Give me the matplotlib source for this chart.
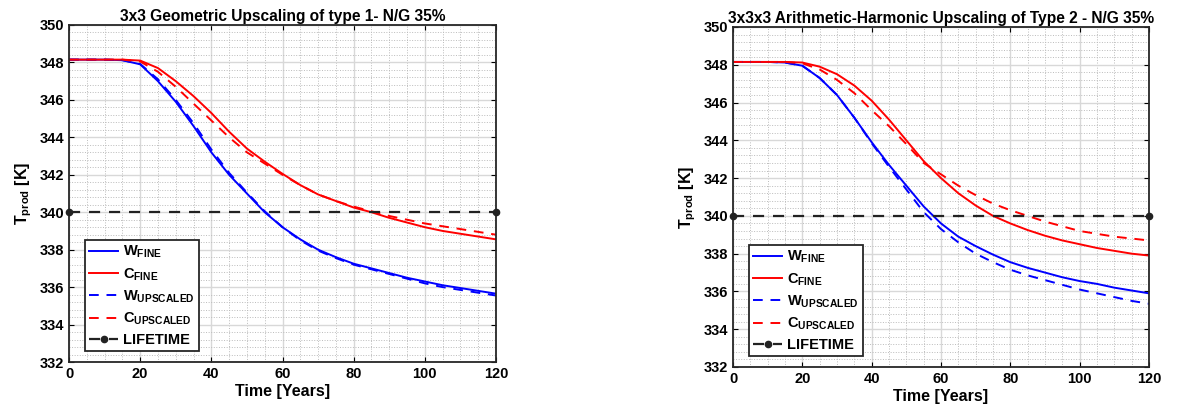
import numpy as np
import matplotlib.pyplot as plt
from matplotlib.ticker import MultipleLocator

plt.rcParams['font.family'] = 'Liberation Sans'
plt.rcParams['font.weight'] = 'bold'
plt.rcParams['mathtext.fontset'] = 'custom'
plt.rcParams['mathtext.rm'] = 'Liberation Sans:bold'
plt.rcParams['mathtext.bf'] = 'Liberation Sans:bold'
plt.rcParams['mathtext.it'] = 'Liberation Sans:bold'

# time axis (years)
years = [0, 5, 10, 15, 20, 25, 30, 35, 40, 45, 50, 55, 60, 65, 70, 75, 80,
         85, 90, 95, 100, 105, 110, 115, 120]

# left panel: 3x3 geometric, type 1
w_fine_1 = [348.15, 348.15, 348.15, 348.12, 347.9, 347.0, 345.9, 344.6, 343.2, 342.0,
            341.0, 340.0, 339.2, 338.55, 338.0, 337.6, 337.25, 337.0, 336.75, 336.5,
            336.3, 336.1, 335.95, 335.8, 335.65]
c_fine_1 = [348.15, 348.15, 348.15, 348.15, 348.1, 347.7, 347.0, 346.2, 345.3, 344.3,
            343.4, 342.7, 342.05, 341.45, 340.95, 340.6, 340.25, 340.0, 339.7, 339.45,
            339.2, 339.0, 338.85, 338.7, 338.55]
w_up_1 = [348.15, 348.15, 348.15, 348.12, 347.92, 347.1, 346.0, 344.75, 343.35, 342.1,
          341.05, 340.05, 339.2, 338.5, 337.95, 337.55, 337.2, 336.95, 336.7, 336.45,
          336.2, 336.0, 335.85, 335.7, 335.55]
c_up_1 = [348.15, 348.15, 348.15, 348.15, 348.05, 347.5, 346.7, 345.8, 344.9, 344.0,
          343.2, 342.6, 342.0, 341.45, 340.95, 340.6, 340.3, 340.05, 339.8, 339.6,
          339.4, 339.25, 339.1, 338.95, 338.8]

# right panel: 3x3x3 arithmetic-harmonic, type 2
w_fine_2 = [348.15, 348.15, 348.15, 348.12, 347.95, 347.3, 346.4, 345.2, 343.9, 342.7,
            341.6, 340.5, 339.6, 338.9, 338.4, 337.95, 337.55, 337.25, 337.0, 336.75,
            336.55, 336.4, 336.2, 336.05, 335.9]
c_fine_2 = [348.15, 348.15, 348.15, 348.15, 348.12, 347.9, 347.5, 346.9, 346.1, 345.1,
            344.0, 342.9, 342.0, 341.2, 340.55, 340.0, 339.6, 339.25, 338.95, 338.7,
            338.5, 338.3, 338.15, 338.0, 337.9]
w_up_2 = [348.15, 348.15, 348.15, 348.12, 347.95, 347.3, 346.4, 345.2, 343.85, 342.6,
          341.4, 340.2, 339.3, 338.6, 338.0, 337.55, 337.15, 336.85, 336.6, 336.35,
          336.1, 335.9, 335.7, 335.5, 335.35]
c_up_2 = [348.15, 348.15, 348.15, 348.15, 348.08, 347.75, 347.2, 346.5, 345.6, 344.75,
          343.8, 342.8, 342.2, 341.6, 341.1, 340.65, 340.3, 340.0, 339.7, 339.45,
          339.2, 339.05, 338.9, 338.8, 338.7]

lifetime_x = [0, 120]
lifetime_y = [340, 340]

titles = ['3x3 Geometric Upscaling of type 1- N/G 35%',
          '3x3x3 Arithmetic-Harmonic Upscaling of Type 2 - N/G 35%']
panels = [(w_fine_1, c_fine_1, w_up_1, c_up_1), (w_fine_2, c_fine_2, w_up_2, c_up_2)]
positions = [[69 / 1184, 1 - 362 / 416, 427 / 1184, 337 / 416],
             [733 / 1184, 1 - 367 / 416, 416 / 1184, 340 / 416]]

fig = plt.figure(figsize=(11.84, 4.16), dpi=100)

for pos, title, (wf, cf, wu, cu) in zip(positions, titles, panels):
    ax = fig.add_axes(pos)
    ax.plot(years, wf, color='#0000ff', lw=1.4, label=r'$\mathbf{W_{FINE}}$')
    ax.plot(years, cf, color='#ff0000', lw=1.4, label=r'$\mathbf{C_{FINE}}$')
    ax.plot(years, wu, color='#0000ff', lw=1.4, ls=(0, (5, 4)), label=r'$\mathbf{W_{UPSCALED}}$')
    ax.plot(years, cu, color='#ff0000', lw=1.4, ls=(0, (5, 4)), label=r'$\mathbf{C_{UPSCALED}}$')
    ax.plot(lifetime_x, lifetime_y, color='#222222', lw=1.6, ls=(0, (5, 4)),
            marker='o', ms=4.5, label='LIFETIME', clip_on=False, zorder=5)

    ax.set_xlim(0, 120)
    ax.set_ylim(332, 350)
    ax.xaxis.set_major_locator(MultipleLocator(20))
    ax.xaxis.set_minor_locator(MultipleLocator(5))
    ax.yaxis.set_major_locator(MultipleLocator(2))
    ax.yaxis.set_minor_locator(MultipleLocator(0.4))
    ax.grid(which='major', color='#d8d8d8', lw=1.0)
    ax.grid(which='minor', color='#bbbbbb', lw=0.7, ls=':')
    ax.set_axisbelow(True)
    ax.tick_params(which='both', direction='in', top=True, right=True, labelsize=10.5)
    ax.tick_params(which='minor', length=0)
    for s in ax.spines.values():
        s.set_linewidth(1.3)
        s.set_color('#262626')

    ax.set_title(title, fontsize=11.2, fontweight='bold', pad=3)
    ax.set_xlabel('Time [Years]', fontsize=11.5, fontweight='bold', labelpad=2)
    ax.set_ylabel(r'$\mathbf{T_{prod}}$ [K]', fontsize=11.5, fontweight='bold', labelpad=4)

    leg = ax.legend(loc='lower left', bbox_to_anchor=(0.02, 0.01), fontsize=10.5,
                    fancybox=False, framealpha=1, edgecolor='#262626',
                    handlelength=2.0, borderpad=0.3, labelspacing=0.4,
                    handletextpad=0.3)
    leg.get_frame().set_linewidth(1.3)

fig.savefig('out.png', dpi=100)
